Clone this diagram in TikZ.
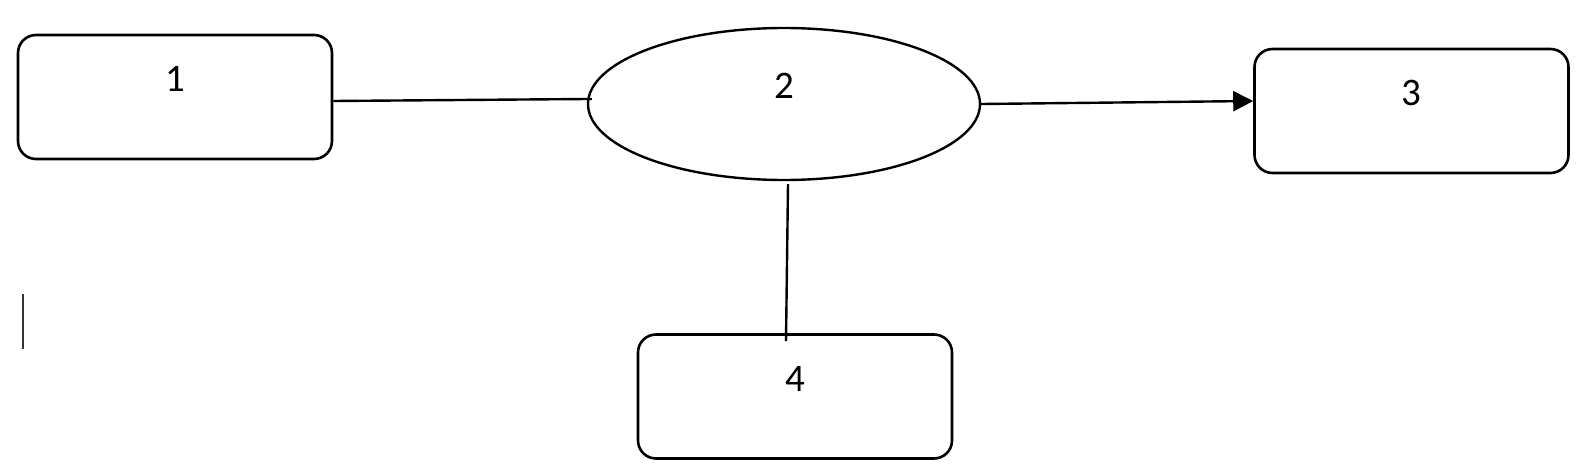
\documentclass[tikz,border=0pt]{standalone}
\usepackage{fontspec}
\setmainfont{Carlito}
\usetikzlibrary{arrows.meta, shapes.geometric}

\begin{document}
\begin{tikzpicture}[x=0.5pt, y=-0.5pt, >={Triangle[length=10pt, width=10pt]},
    box/.style={draw, line width=1.3pt, rounded corners=9pt, minimum width=157pt,
                minimum height=62pt, inner sep=0pt, text height=13pt, text depth=18.5pt,
                font=\fontsize{19.5pt}{23pt}\selectfont},
    oval/.style={draw, ellipse, line width=1.2pt, minimum width=196pt, minimum height=76pt,
                inner sep=0pt, text height=13pt, text depth=19pt,
                font=\fontsize{19.5pt}{23pt}\selectfont},
    link/.style={line width=1.2pt}]
  \useasboundingbox (0,0) rectangle (1585,471);

  \node[box]   (n1) at (175,97)      {1};
  \node[oval]  (n2) at (784,104)     {2};
  \node[box]   (n3) at (1411.5,111)  {3};
  \node[box]   (n4) at (795,396.5)   {4};

  \draw[link, shorten >=-2.5pt] ([yshift=-2pt]n1.east) -- ([yshift=2.5pt]n2.west);
  \draw[link, ->] (n2.east) -- ([yshift=5pt]n3.west);
  \draw[link] ([xshift=2pt,yshift=-1.5pt]n2.south) -- ([xshift=-4.5pt,yshift=-4pt]n4.north);

  \draw[line width=0.6pt, black!80] (23,294) -- (23,349);
\end{tikzpicture}
\end{document}
